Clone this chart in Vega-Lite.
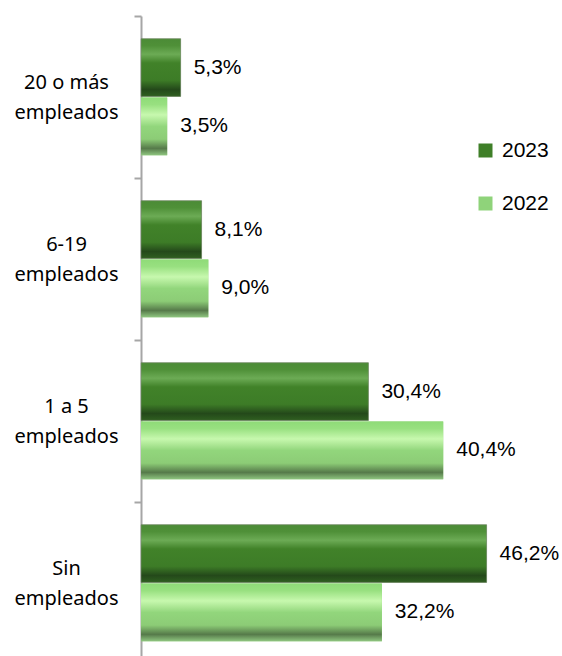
{
  "$schema": "https://vega.github.io/schema/vega-lite/v6.json",
  "width": 421,
  "height": 640,
  "autosize": "none",
  "padding": {"left": 141, "top": 16, "right": 0, "bottom": 0},
  "background": "white",
  "config": {
    "view": {"stroke": null},
    "locale": {"number": {"decimal": ",", "thousands": ".", "grouping": [3], "currency": ["", " €"]}}
  },
  "data": {
    "values": [
      {"cat": "20 o más|empleados", "year": "2023", "value": 0.053},
      {"cat": "20 o más|empleados", "year": "2022", "value": 0.035},
      {"cat": "6-19|empleados", "year": "2023", "value": 0.081},
      {"cat": "6-19|empleados", "year": "2022", "value": 0.090},
      {"cat": "1 a 5|empleados", "year": "2023", "value": 0.304},
      {"cat": "1 a 5|empleados", "year": "2022", "value": 0.404},
      {"cat": "Sin|empleados", "year": "2023", "value": 0.462},
      {"cat": "Sin|empleados", "year": "2022", "value": 0.322}
    ]
  },
  "encoding": {
    "y": {
      "field": "cat", "type": "nominal", "sort": null,
      "scale": {"range": [0, 648], "paddingInner": 0, "paddingOuter": 0},
      "axis": {
        "title": null, "bandPosition": 0, "domainColor": "#a6a6a6", "domainWidth": 2,
        "tickColor": "#a6a6a6", "tickWidth": 2, "tickSize": 7,
        "labelExpr": "split(datum.value, '|')", "labelAlign": "center", "labelPadding": 68,
        "labelFont": "Noto Sans", "labelFontSize": 20, "labelColor": "#000000", "labelLineHeight": 30,
        "labelBaseline": "middle", "labelOffset": -14
      }
    },
    "yOffset": {
      "field": "year", "type": "nominal", "sort": ["2023", "2022"],
      "scale": {"paddingOuter": 0.385, "paddingInner": 0.02}
    },
    "x": {
      "field": "value", "type": "quantitative",
      "scale": {"domain": [0, 0.5628], "nice": false},
      "axis": null
    }
  },
  "layer": [
    {
      "mark": {"type": "bar"},
      "encoding": {
        "color": {
          "field": "year", "type": "nominal",
          "scale": {"domain": ["2023", "2022"], "range": ["#3f7f28", "#8fd37a"]},
          "legend": {
            "title": null, "orient": "none", "legendX": 334, "legendY": 124,
            "symbolType": "square", "symbolSize": 196, "symbolStrokeWidth": 0,
            "labelFont": "Liberation Sans", "labelFontSize": 21, "labelColor": "#000000",
            "labelOffset": 6, "rowPadding": 31, "padding": 0
          }
        }
      }
    },
    {
      "transform": [{"filter": "datum.year == '2023'"}],
      "mark": {
        "type": "bar",
        "stroke": "#7d8c75", "strokeWidth": 0.6,
        "fill": {
          "gradient": "linear", "x1": 0, "y1": 0, "x2": 0, "y2": 1,
          "stops": [
            {"offset": 0, "color": "#4b8b36"},
            {"offset": 0.12, "color": "#4f9038"},
            {"offset": 0.27, "color": "#6cab55"},
            {"offset": 0.42, "color": "#418229"},
            {"offset": 0.72, "color": "#3d7c27"},
            {"offset": 0.88, "color": "#24491a"},
            {"offset": 1, "color": "#2f5f20"}
          ]
        }
      }
    },
    {
      "transform": [{"filter": "datum.year == '2022'"}],
      "mark": {
        "type": "bar",
        "fill": {
          "gradient": "linear", "x1": 0, "y1": 0, "x2": 0, "y2": 1,
          "stops": [
            {"offset": 0, "color": "#8fdb78"},
            {"offset": 0.12, "color": "#98e080"},
            {"offset": 0.3, "color": "#c7f8ae"},
            {"offset": 0.5, "color": "#92d67c"},
            {"offset": 0.72, "color": "#8ccc76"},
            {"offset": 0.88, "color": "#567a4a"},
            {"offset": 1, "color": "#8fc680"}
          ]
        }
      }
    },
    {
      "mark": {"type": "text", "align": "left", "baseline": "middle", "dx": 13, "font": "Liberation Sans", "fontSize": 21, "color": "#000000"},
      "encoding": {
        "text": {"field": "value", "type": "quantitative", "format": ".1%"}
      }
    }
  ]
}
